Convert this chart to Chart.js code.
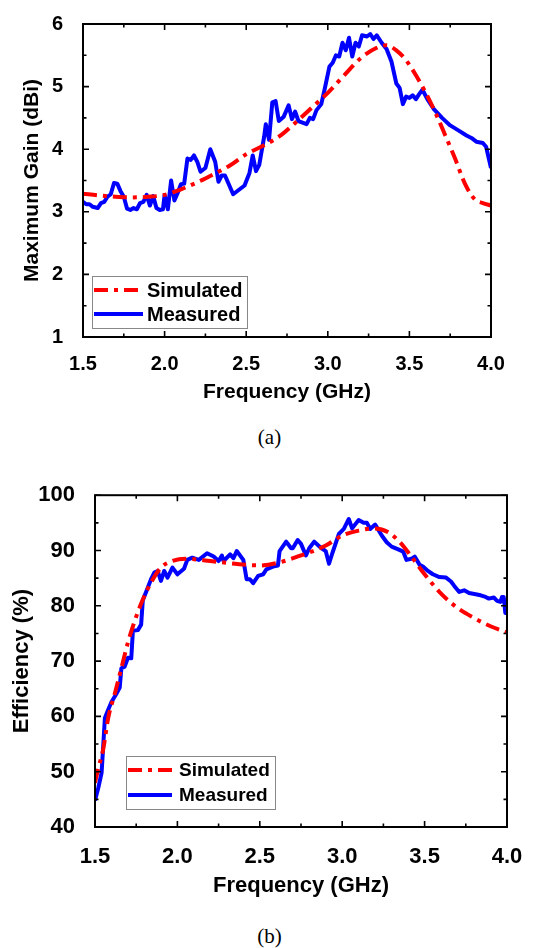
<!DOCTYPE html>
<html>
<head>
<meta charset="utf-8">
<script src="https://cdn.jsdelivr.net/npm/chart.js@4.4.1/dist/chart.umd.min.js"></script>
<style>
    body { margin: 0; background: #fff; width: 539px; height: 948px; position: relative; overflow: hidden; }
    canvas { position: absolute; left: 0; }
    #gainChart { top: 0; }
    #effChart { top: 470px; }
    .cap { position: absolute; left: 0; width: 539px; text-align: center; font-family: "Liberation Serif", serif; font-size: 21px; }
</style>
</head>
<body>
<canvas id="gainChart" width="539" height="420"></canvas>
<div class="cap" style="top:425px">(a)</div>
<canvas id="effChart" width="539" height="440"></canvas>
<div class="cap" style="top:924px">(b)</div>
<script>
// (a) maximum gain, dBi
const gainMeasFreq = [1.50, 1.52, 1.54, 1.56, 1.59, 1.61, 1.63, 1.65, 1.67, 1.69, 1.71, 1.73, 1.75, 1.77, 1.79, 1.81, 1.83, 1.85, 1.87, 1.89,
    1.91, 1.93, 1.95, 1.97, 1.99, 2.00, 2.02, 2.04, 2.06, 2.08, 2.10, 2.12, 2.14, 2.16, 2.18, 2.20, 2.22, 2.25, 2.28, 2.31,
    2.33, 2.35, 2.37, 2.40, 2.42, 2.46, 2.49, 2.52, 2.54, 2.56, 2.58, 2.61, 2.62, 2.64, 2.66, 2.68, 2.70, 2.73, 2.76, 2.78,
    2.80, 2.82, 2.87, 2.89, 2.91, 2.93, 2.96, 2.98, 3.01, 3.03, 3.05, 3.07, 3.09, 3.11, 3.13, 3.15, 3.17, 3.19, 3.21, 3.24,
    3.26, 3.28, 3.30, 3.33, 3.36, 3.39, 3.42, 3.44, 3.46, 3.48, 3.50, 3.52, 3.54, 3.56, 3.58, 3.61, 3.65, 3.70, 3.75, 3.80,
    3.85, 3.88, 3.91, 3.95, 3.97, 4.00];
const gainMeasured = [3.16, 3.12, 3.12, 3.08, 3.06, 3.14, 3.16, 3.24, 3.28, 3.46, 3.45, 3.33, 3.24, 3.05, 3.03, 3.06, 3.04, 3.14, 3.16, 3.27,
    3.10, 3.25, 3.06, 3.03, 3.04, 3.27, 3.04, 3.50, 3.18, 3.30, 3.44, 3.45, 3.85, 3.83, 3.90, 3.80, 3.64, 3.70, 4.00, 3.80,
    3.48, 3.58, 3.58, 3.40, 3.28, 3.36, 3.42, 3.62, 3.90, 3.65, 3.75, 4.20, 4.40, 4.15, 4.75, 4.77, 4.45, 4.52, 4.70, 4.48,
    4.60, 4.45, 4.40, 4.50, 4.48, 4.62, 4.72, 4.95, 5.32, 5.38, 5.50, 5.48, 5.70, 5.58, 5.78, 5.48, 5.70, 5.64, 5.82, 5.80,
    5.84, 5.76, 5.82, 5.70, 5.60, 5.40, 5.05, 4.98, 4.72, 4.84, 4.82, 4.86, 4.80, 4.88, 4.95, 4.80, 4.64, 4.50, 4.38, 4.30,
    4.22, 4.18, 4.12, 4.10, 4.04, 3.70];
const gainSimFreq = [1.50, 1.60, 1.70, 1.80, 1.90, 2.00, 2.10, 2.20, 2.30, 2.40, 2.50, 2.60, 2.70, 2.80, 2.90, 3.00, 3.10, 3.20, 3.30, 3.36,
    3.42, 3.48, 3.54, 3.60, 3.66, 3.72, 3.78, 3.84, 3.90, 3.95, 4.00];
const gainSimulated = [3.29, 3.26, 3.24, 3.23, 3.24, 3.27, 3.36, 3.47, 3.60, 3.74, 3.92, 4.05, 4.20, 4.42, 4.66, 4.90, 5.18, 5.45, 5.62, 5.66,
    5.58, 5.42, 5.18, 4.90, 4.58, 4.22, 3.85, 3.45, 3.20, 3.14, 3.10];

// (b) efficiency, %
const effMeasFreq = [1.50, 1.52, 1.54, 1.56, 1.58, 1.60, 1.63, 1.65, 1.66, 1.68, 1.70, 1.72, 1.73, 1.76, 1.78, 1.79, 1.81, 1.84, 1.86, 1.88,
    1.90, 1.92, 1.94, 1.97, 2.00, 2.04, 2.06, 2.09, 2.13, 2.18, 2.22, 2.25, 2.27, 2.28, 2.32, 2.34, 2.36, 2.40, 2.42, 2.44,
    2.46, 2.49, 2.52, 2.54, 2.58, 2.61, 2.62, 2.66, 2.69, 2.70, 2.73, 2.75, 2.78, 2.80, 2.83, 2.87, 2.90, 2.92, 2.94, 2.98,
    3.01, 3.04, 3.06, 3.10, 3.13, 3.15, 3.17, 3.20, 3.24, 3.27, 3.30, 3.34, 3.37, 3.39, 3.42, 3.44, 3.47, 3.49, 3.52, 3.55,
    3.59, 3.63, 3.66, 3.68, 3.71, 3.74, 3.77, 3.81, 3.84, 3.87, 3.89, 3.92, 3.94, 3.96, 3.97, 3.98, 3.99, 4.00];
const effMeasured = [44.8, 47.1, 49.8, 59.7, 61.2, 62.6, 64.1, 65.2, 68.7, 69.0, 70.6, 70.5, 75.5, 75.6, 76.6, 81.0, 82.5, 84.8, 86.0, 86.3,
    84.5, 86.3, 85.1, 86.9, 85.7, 86.7, 88.3, 88.7, 88.3, 89.5, 88.9, 88.1, 89.1, 88.1, 89.3, 88.6, 89.9, 88.3, 84.8, 84.8,
    84.1, 85.4, 85.7, 86.6, 87.1, 87.3, 89.9, 91.6, 90.4, 90.4, 91.9, 91.2, 89.1, 90.4, 91.6, 90.5, 89.9, 87.6, 89.5, 93.0,
    93.9, 95.7, 94.0, 95.5, 95.0, 95.0, 93.9, 94.7, 92.7, 91.5, 90.7, 90.2, 89.8, 88.3, 88.5, 88.9, 87.4, 87.1, 86.3, 85.7,
    85.2, 85.1, 84.4, 83.6, 82.5, 82.8, 82.3, 82.1, 81.9, 81.6, 81.3, 81.5, 80.9, 80.7, 81.6, 81.6, 78.7, 78.7];
const effSimFreq = [1.50, 1.52, 1.55, 1.58, 1.62, 1.66, 1.70, 1.74, 1.78, 1.84, 1.90, 1.96, 2.05, 2.20, 2.35, 2.50, 2.60, 2.75, 2.90, 3.00,
    3.10, 3.20, 3.28, 3.35, 3.42, 3.50, 3.60, 3.70, 3.80, 3.90, 4.00];
const effSimulated = [48.0, 50.6, 54.1, 59.7, 64.1, 68.7, 73.4, 77.2, 80.4, 84.2, 86.9, 88.0, 88.5, 88.1, 87.6, 87.3, 87.7, 89.1, 90.9, 92.7,
    93.6, 94.0, 93.3, 91.5, 88.9, 85.7, 82.2, 79.6, 77.8, 76.3, 75.2];

const xTicks = [1.5, 2.0, 2.5, 3.0, 3.5, 4.0];

const toPoints = (xs, ys) => xs.map((x, i) => ({ x: x, y: ys[i] }));

Chart.defaults.font.family = "'Liberation Sans', Arial, sans-serif";
Chart.defaults.color = "#000";

// frame with inward major/minor ticks on all four sides
const frameTicks = {
    id: "frameTicks",
    afterDatasetsDraw(chart, args, opts) {
        const { ctx, chartArea: a, scales: { x, y } } = chart;
        ctx.save();
        ctx.strokeStyle = "#000";
        ctx.lineWidth = 1.6;
        const marks = (scale, minor, horiz) => {
            let i = 0;
            for (let v = scale.min; v <= scale.max + 1e-9; v += minor, i++) {
                const len = i % 2 === 0 ? 6 : 3.5;
                const p = scale.getPixelForValue(v);
                ctx.beginPath();
                if (horiz) {
                    ctx.moveTo(p, a.bottom); ctx.lineTo(p, a.bottom - len);
                    ctx.moveTo(p, a.top); ctx.lineTo(p, a.top + len);
                } else {
                    ctx.moveTo(a.left, p); ctx.lineTo(a.left + len, p);
                    ctx.moveTo(a.right, p); ctx.lineTo(a.right - len, p);
                }
                ctx.stroke();
            }
        };
        marks(x, opts.xMinor, true);
        marks(y, opts.yMinor, false);
        ctx.lineWidth = 2;
        ctx.strokeRect(a.left, a.top, a.right - a.left, a.bottom - a.top);
        ctx.restore();
    }
};

// legend box drawn inside the plot area
const insideLegend = {
    id: "insideLegend",
    afterDraw(chart, args, o) {
        const { ctx, chartArea: a } = chart;
        const bx = a.left + o.left, by = a.bottom - o.bottom - o.h;
        ctx.save();
        ctx.fillStyle = "#fff";
        ctx.fillRect(bx, by, o.w, o.h);
        ctx.strokeStyle = "#888";
        ctx.lineWidth = 1;
        ctx.strokeRect(bx + 0.5, by + 0.5, o.w, o.h);
        chart.data.datasets.forEach((ds, i) => {
            const ry = by + o.rows[i];
            ctx.beginPath();
            ctx.strokeStyle = ds.borderColor;
            ctx.lineWidth = ds.borderWidth;
            ctx.setLineDash(ds.borderDash || []);
            ctx.moveTo(bx + o.lineFrom, ry);
            ctx.lineTo(bx + o.lineTo, ry);
            ctx.stroke();
            ctx.setLineDash([]);
            ctx.fillStyle = "#000";
            ctx.font = "bold " + o.fontSize + "px 'Liberation Sans', Arial, sans-serif";
            ctx.textBaseline = "middle";
            ctx.fillText(ds.label, bx + o.textX, ry + 1);
        });
        ctx.restore();
    }
};

function makeOptions(cfg) {
    return {
        responsive: false,
        animation: false,
        layout: { padding: { top: cfg.padTop, right: cfg.padRight, left: 0, bottom: 0 } },
        scales: {
            x: {
                type: "linear",
                min: 1.5,
                max: 4.0,
                afterBuildTicks: s => { s.ticks = xTicks.map(v => ({ value: v })); },
                afterFit: s => { s.height = cfg.xHeight; },
                grid: { display: false },
                border: { display: false },
                ticks: {
                    padding: cfg.xTickPad,
                    font: { size: cfg.tickSize, weight: "bold" },
                    callback: v => Number(v).toFixed(1)
                },
                title: {
                    display: true,
                    text: "Frequency (GHz)",
                    font: { size: cfg.titleSize, weight: "bold" },
                    padding: { top: 0, bottom: cfg.xTitlePad }
                }
            },
            y: {
                min: cfg.yMin,
                max: cfg.yMax,
                afterFit: s => { s.width = cfg.yWidth; },
                grid: { display: false },
                border: { display: false },
                ticks: {
                    stepSize: cfg.yStep,
                    padding: 12,
                    font: { size: cfg.tickSize, weight: "bold" }
                },
                title: {
                    display: true,
                    text: cfg.yTitle,
                    font: { size: cfg.titleSize, weight: "bold" },
                    padding: { top: cfg.yTitlePad, bottom: 0 }
                }
            }
        },
        plugins: {
            legend: { display: false },
            tooltip: { enabled: false },
            frameTicks: { xMinor: 0.25, yMinor: cfg.yStep / 2 },
            insideLegend: cfg.legend
        }
    };
}

function makeDatasets(simX, simY, measX, measY) {
    return [{
        label: "Simulated",
        data: toPoints(simX, simY),
        borderColor: "#ff0000",
        borderWidth: 4,
        borderDash: [14, 6, 4, 6],
        pointRadius: 0,
        cubicInterpolationMode: "monotone",
        fill: false
    }, {
        label: "Measured",
        data: toPoints(measX, measY),
        borderColor: "#0000ff",
        borderWidth: 4,
        pointRadius: 0,
        tension: 0,
        borderJoinStyle: "round",
        fill: false
    }];
}

new Chart(document.getElementById("gainChart"), {
    type: "line",
    data: { datasets: makeDatasets(gainSimFreq, gainSimulated, gainMeasFreq, gainMeasured) },
    options: makeOptions({
        padTop: 20, padRight: 48, xHeight: 83, yWidth: 83,
        xTickPad: 7, xTitlePad: 15, yTitlePad: 20,
        tickSize: 20, titleSize: 21,
        yMin: 1, yMax: 6, yStep: 1, yTitle: "Maximum Gain (dBi)",
        legend: { left: 9, bottom: 9, w: 155, h: 52, rows: [14, 38], lineFrom: 2, lineTo: 51, textX: 55, fontSize: 20 }
    }),
    plugins: [frameTicks, insideLegend]
});

new Chart(document.getElementById("effChart"), {
    type: "line",
    data: { datasets: makeDatasets(effSimFreq, effSimulated, effMeasFreq, effMeasured) },
    options: makeOptions({
        padTop: 15, padRight: 32, xHeight: 83, yWidth: 95,
        xTickPad: 9, xTitlePad: 11, yTitlePad: 9,
        tickSize: 22, titleSize: 22,
        yMin: 40, yMax: 100, yStep: 10, yTitle: "Efficiency (%)",
        legend: { left: 31, bottom: 18, w: 149, h: 53, rows: [14, 39], lineFrom: 2, lineTo: 46, textX: 53, fontSize: 19 }
    }),
    plugins: [frameTicks, insideLegend]
});
</script>
</body>
</html>
